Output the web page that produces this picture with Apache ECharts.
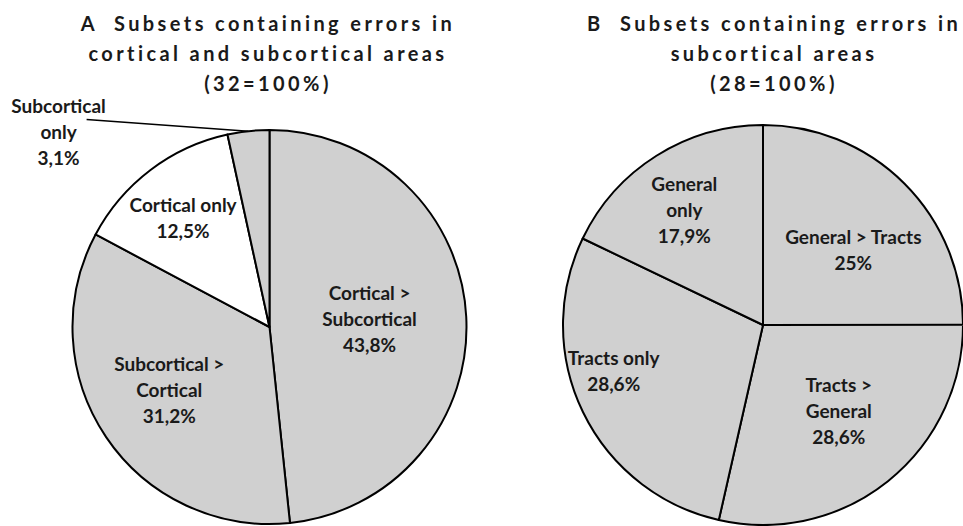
<!DOCTYPE html>
<html><head><meta charset="utf-8">
<script src="https://cdn.jsdelivr.net/npm/echarts@6/dist/echarts.min.js"></script>
<style>html,body{margin:0;padding:0;background:#fff}#c{width:963px;height:526px}</style>
</head><body><div id="c"></div>
<script>
// ---- data ----
const titleLinesA = ['A  Subsets containing errors in', 'cortical and subcortical areas', '(32=100%)'];
const titleLinesB = ['B  Subsets containing errors in', 'subcortical areas', '(28=100%)'];
const categoriesA = ['Cortical >\nSubcortical', 'Subcortical >\nCortical', 'Cortical only', 'Subcortical\nonly'];
const valuesA = [43.8, 31.2, 12.5, 3.1];
const categoriesB = ['General > Tracts', 'Tracts >\nGeneral', 'Tracts only', 'General\nonly'];
const valuesB = [25, 28.6, 28.6, 17.9];

// ---- styles ----
const GRAY = '#d0d0d0';
const colorsA = [GRAY, GRAY, '#ffffff', GRAY];
const colorsB = [GRAY, GRAY, GRAY, GRAY];
const pieA = {cx: 269.5, cy: 327, r: 197};
const pieB = {cx: 763, cy: 325, r: 200};
// label placement: radial fraction of radius and angular tweak (deg) from slice mid-angle
const labelPosA = [{f: 0.51, da: -2}, {f: 0.60, da: 2}, {f: 0.71, da: -1}, {f: 1.46, da: -41}];
const labelPosB = [{f: 0.59, da: 5}, {f: 0.57, da: -3}, {f: 0.78, da: 9}, {f: 0.70, da: -2}];
const leaderStart = [28, -12]; // leader line start, relative to outside label centre
const TITLE_SPACING = 3.4;

function midAngles(vals) {
  const tot = vals.reduce((a, b) => a + b, 0);
  let acc = 0;
  return vals.map(v => { const m = (acc + v / 2) / tot * 360; acc += v; return m; });
}
function fmt(name, v) { return name + '\n' + String(v).replace('.', ',') + '%'; }
function polar(pie, f, deg) {
  const a = deg * Math.PI / 180;
  return [pie.cx + f * pie.r * Math.sin(a), pie.cy - f * pie.r * Math.cos(a)];
}

function makeSeries(names, vals, colors, pie, lpos, outsideIdx) {
  const mids = midAngles(vals);
  return {
    type: 'pie',
    center: [pie.cx, pie.cy],
    radius: [0, pie.r],
    startAngle: 90,
    clockwise: true,
    silent: true,
    animation: false,
    avoidLabelOverlap: false,
    itemStyle: {borderColor: '#000', borderWidth: 2},
    label: {
      show: true, position: 'inside', color: '#1a1a1a',
      fontFamily: 'Lato', fontWeight: 'bold', fontSize: 19, lineHeight: 26,
      formatter: p => fmt(p.name, p.value)
    },
    labelLine: {show: false},
    emphasis: {disabled: true},
    labelLayout: function (params) {
      const i = params.dataIndex;
      const c = polar(pie, lpos[i].f, mids[i] + lpos[i].da);
      const out = {x: c[0], y: c[1], align: 'center', verticalAlign: 'middle'};
      if (i === outsideIdx) {
        const s = [c[0] + leaderStart[0], c[1] + leaderStart[1]];
        const e = polar(pie, 1, mids[i]);
        out.labelLinePoints = [s, s, e];
      }
      return out;
    },
    data: names.map((n, i) => {
      const d = {name: n, value: vals[i], itemStyle: {color: colors[i]}};
      if (i === outsideIdx) {
        d.label = {position: 'outside'};
        d.labelLine = {show: true, length: 10, length2: 10, lineStyle: {color: '#000', width: 1.5}};
      }
      return d;
    })
  };
}

const chart = echarts.init(document.getElementById('c'), null, {renderer: 'svg'});
const titleStyle = {fontFamily: 'Lato', fontWeight: 'bold', fontSize: 20, lineHeight: 30, color: '#1a1a1a'};
chart.setOption({
  animation: false,
  title: [
    {text: titleLinesA.join('\n'), left: 263, top: 3, textAlign: 'center', textStyle: titleStyle},
    {text: titleLinesB.join('\n'), left: 769, top: 3, textAlign: 'center', textStyle: titleStyle}
  ],
  series: [
    makeSeries(categoriesA, valuesA, colorsA, pieA, labelPosA, 3),
    makeSeries(categoriesB, valuesB, colorsB, pieB, labelPosB, -1)
  ]
});

// widen the title lettering (the reference uses spaced-out title text)
const titleSet = new Set(titleLinesA.concat(titleLinesB));
function spaceTitles() {
  document.querySelectorAll('#c svg text').forEach(t => {
    if (titleSet.has(t.textContent)) t.setAttribute('letter-spacing', TITLE_SPACING);
  });
}
try { chart.getZr().flush(); } catch (e) {}
spaceTitles();
chart.on('finished', spaceTitles);
setTimeout(spaceTitles, 30);
</script></body></html>
